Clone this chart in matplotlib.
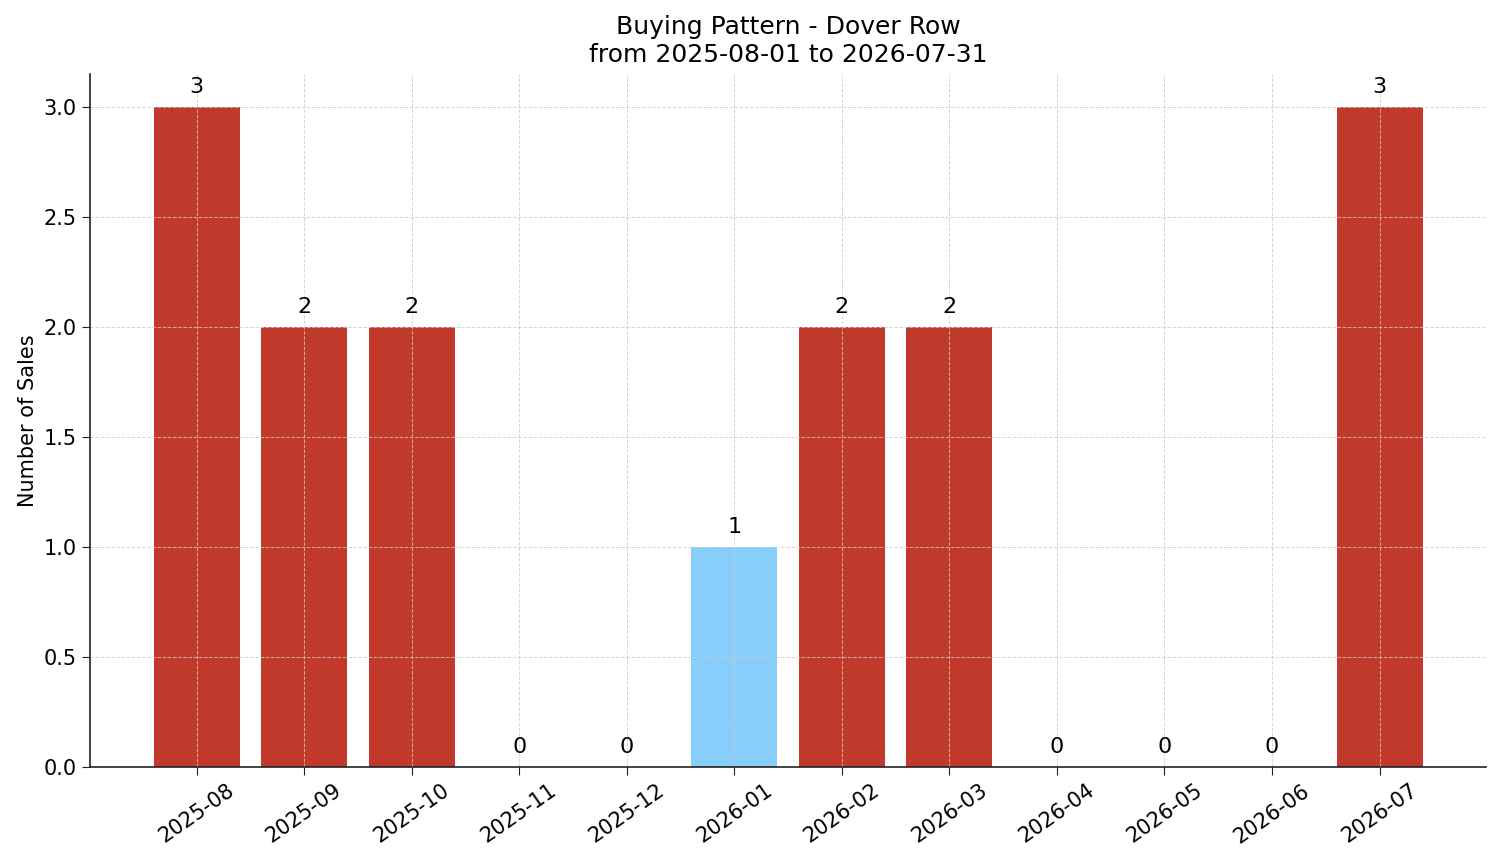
import matplotlib
matplotlib.use("Agg")
import matplotlib.pyplot as plt

# monthly sales counts
months = ["2025-08", "2025-09", "2025-10", "2025-11", "2025-12", "2026-01",
          "2026-02", "2026-03", "2026-04", "2026-05", "2026-06", "2026-07"]
sales = [3, 2, 2, 0, 0, 1, 2, 2, 0, 0, 0, 3]
colors = ["#c0392b", "#c0392b", "#c0392b", "#c0392b", "#c0392b", "#87cefa",
          "#c0392b", "#c0392b", "#c0392b", "#c0392b", "#c0392b", "#c0392b"]

fig, ax = plt.subplots(figsize=(15.01, 8.63), dpi=100)
bars = ax.bar(months, sales, color=colors, width=0.8)

for b, v in zip(bars, sales):
    ax.text(b.get_x() + b.get_width() / 2, v + 0.045, str(v),
            ha="center", va="bottom", fontsize=16)

ax.set_title("Buying Pattern - Dover Row\nfrom 2025-08-01 to 2026-07-31", fontsize=18, pad=9)
ax.set_ylabel("Number of Sales", fontsize=15)
ax.grid(True, linestyle="--", color="#cccccc", alpha=0.8, linewidth=0.7)
ax.spines["top"].set_visible(False)
ax.spines["right"].set_visible(False)
for s in ("left", "bottom"):
    ax.spines[s].set_color("#222222")
    ax.spines[s].set_linewidth(1.2)
ax.tick_params(axis="x", labelrotation=35, labelsize=15, length=6, color="#222222")
ax.tick_params(axis="y", labelsize=15, length=6, color="#222222")
ax.set_ylim(0, 3.15)

fig.subplots_adjust(left=0.06, right=0.99, top=0.914, bottom=0.111)
fig.savefig("out.png")
